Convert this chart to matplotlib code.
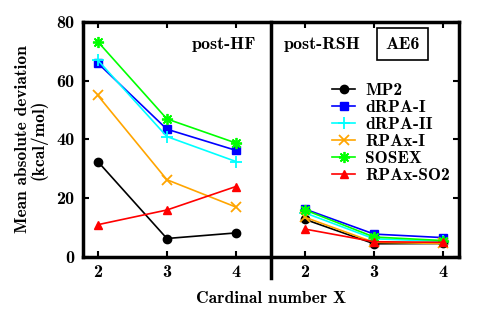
import matplotlib
matplotlib.use("Agg")
import matplotlib.pyplot as plt

plt.rcParams["font.family"] = ["cmb10", "DejaVu Serif"]
plt.rcParams["font.size"] = 12

# cardinal numbers shown on both panels
cardinal = [2, 3, 4]
tick_labels = ["2", "3", "4", "2", "3", "4"]

methods = ["MP2", "dRPA-I", "dRPA-II", "RPAx-I", "SOSEX", "RPAx-SO2"]

# post-HF panel
post_hf = {
    "MP2": [32.5, 6.3, 8.2],
    "dRPA-I": [66.0, 43.5, 36.3],
    "dRPA-II": [67.0, 41.0, 32.5],
    "RPAx-I": [55.0, 26.3, 17.0],
    "SOSEX": [73.3, 47.0, 38.8],
    "RPAx-SO2": [11.0, 16.0, 24.0],
}

# post-RSH panel
post_rsh = {
    "MP2": [12.8, 4.5, 4.6],
    "dRPA-I": [16.3, 7.8, 6.6],
    "dRPA-II": [15.0, 6.2, 5.3],
    "RPAx-I": [13.5, 5.0, 4.6],
    "SOSEX": [16.0, 6.8, 5.6],
    "RPAx-SO2": [9.5, 5.2, 5.0],
}

styles = {
    "MP2": dict(color="black", marker="o", ms=6, mew=1),
    "dRPA-I": dict(color="#0000ff", marker="s", ms=6, mew=1),
    "dRPA-II": dict(color="#00ffff", marker="+", ms=8, mew=1.3),
    "RPAx-I": dict(color="#ffa500", marker="x", ms=7, mew=1.3),
    "SOSEX": dict(color="#00ff00", marker=(8, 2, 0), ms=8, mew=1.3),
    "RPAx-SO2": dict(color="#ff0000", marker="^", ms=6, mew=1),
}

fig = plt.figure(figsize=(4.9, 3.14), dpi=100)
ax = fig.add_axes([0.169, 0.1815, 0.768, 0.7485])

x_left = cardinal
x_right = [c + 3 for c in cardinal]

for m in methods:
    st = styles[m]
    ax.plot(x_left, post_hf[m], lw=1.2, label=m, **st)
    ax.plot(x_right, post_rsh[m], lw=1.2, **st)

ax.set_xlim(1.783, 7.23)
ax.set_ylim(0, 80)
ax.set_xticks(x_left + x_right)
ax.set_xticklabels(tick_labels)
ax.set_yticks([0, 20, 40, 60, 80])

# divider between the two panels
ax.plot([4.507, 4.507], [-7, 80], color="black", lw=2.5, clip_on=False)

for s in ax.spines.values():
    s.set_linewidth(2.5)
ax.tick_params(direction="in", top=True, right=True, width=1.5, length=4,
               pad=6, labelsize=13)

ax.set_ylabel("Mean absolute deviation\n(kcal/mol)", linespacing=1.0,
              fontsize=12.5, labelpad=6)
ax.set_xlabel("Cardinal number X", labelpad=8, fontsize=12.5)

ax.text(3.83, 72.5, "post-HF", ha="center", va="center", fontsize=13)
ax.text(5.25, 72.5, "post-RSH", ha="center", va="center", fontsize=13)
ax.text(6.41, 72.5, "AE6", ha="center", va="center", fontsize=13,
        bbox=dict(boxstyle="square,pad=0.45", fc="white", ec="black", lw=1.2))

ax.legend(loc="upper left", bbox_to_anchor=(0.645, 0.77), frameon=False,
          handlelength=1.3, handletextpad=0.6, labelspacing=0.1,
          borderaxespad=0, fontsize=12.5)

fig.savefig("out.png", dpi=100)
